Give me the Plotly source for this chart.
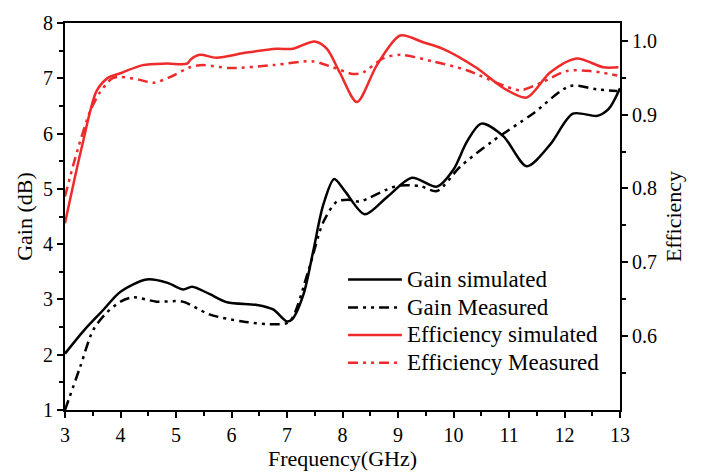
import plotly.graph_objects as go

# Gain simulated
gs_f = [3.0, 3.35, 3.68, 4.0, 4.47, 4.85, 5.13, 5.29, 5.6, 5.92, 6.46, 6.75, 7.0, 7.1, 7.3, 7.47, 7.65, 7.85, 8.05, 8.4, 8.8, 9.25, 9.7, 10.0, 10.24, 10.5, 10.9, 11.32, 11.74, 12.15, 12.59, 12.8, 13.0]
gs_v = [2.02, 2.45, 2.8, 3.14, 3.36, 3.3, 3.18, 3.23, 3.1, 2.95, 2.9, 2.82, 2.6, 2.65, 3.1, 3.86, 4.7, 5.18, 4.95, 4.54, 4.85, 5.2, 5.04, 5.35, 5.85, 6.18, 5.95, 5.41, 5.8, 6.36, 6.32, 6.45, 6.82]

# Gain measured
gm_f = [3.0, 3.27, 3.5, 3.72, 4.0, 4.23, 4.65, 5.12, 5.6, 6.2, 6.8, 7.05, 7.38, 7.65, 7.9, 8.14, 8.3, 8.97, 9.4, 9.7, 10.12, 10.7, 11.43, 12.1, 12.58, 12.95]
gm_v = [1.0, 1.77, 2.43, 2.73, 2.96, 3.04, 2.96, 2.96, 2.73, 2.6, 2.55, 2.6, 3.5, 4.39, 4.77, 4.8, 4.77, 5.05, 5.05, 4.96, 5.4, 5.86, 6.36, 6.86, 6.8, 6.77]

# Efficiency simulated
es_f = [3.0, 3.3, 3.57, 3.78, 4.0, 4.4, 4.83, 5.2, 5.27, 5.43, 5.73, 6.27, 6.82, 7.1, 7.5, 7.72, 7.95, 8.26, 8.62, 9.04, 9.45, 9.81, 10.42, 10.9, 11.32, 11.74, 12.22, 12.7, 12.97]
es_v = [0.753, 0.855, 0.932, 0.95, 0.956, 0.967, 0.969, 0.969, 0.975, 0.981, 0.977, 0.984, 0.989, 0.989, 0.999, 0.989, 0.957, 0.917, 0.967, 1.007, 0.998, 0.989, 0.963, 0.936, 0.923, 0.957, 0.976, 0.964, 0.964]

# Efficiency measured
em_f = [3.0, 3.18, 3.45, 3.63, 3.85, 4.0, 4.35, 4.59, 4.9, 5.25, 5.49, 5.97, 6.75, 7.47, 7.83, 8.19, 8.37, 8.73, 9.04, 9.63, 10.24, 10.78, 11.2, 11.6, 12.04, 12.46, 12.95]
em_v = [0.789, 0.84, 0.904, 0.93, 0.949, 0.951, 0.947, 0.943, 0.951, 0.964, 0.967, 0.963, 0.967, 0.972, 0.964, 0.955, 0.957, 0.976, 0.981, 0.972, 0.96, 0.943, 0.933, 0.944, 0.959, 0.959, 0.953]

series_names = ["Gain simulated", "Gain Measured", "Efficiency simulated", "Efficiency Measured"]

RED = "#ee2a2a"
DASHDOT = "10px,5px,3px,5px,3px,5px"
FONT = "Liberation Serif"

styles = [dict(color="black", dash="solid"), dict(color="black", dash=DASHDOT),
          dict(color=RED, dash="solid"), dict(color=RED, dash=DASHDOT)]
data = [(gs_f, gs_v, "y"), (gm_f, gm_v, "y"), (es_f, es_v, "y2"), (em_f, em_v, "y2")]

fig = go.Figure()
for (fx, fy, ax), nm, st in zip(data, series_names, styles):
    fig.add_trace(go.Scatter(x=fx, y=fy, mode="lines", name=nm, yaxis=ax, showlegend=False,
                             line=dict(color=st["color"], width=2.5, shape="spline",
                                       smoothing=0.8, dash=st["dash"])))

# manual legend (paper coordinates)
leg_x0, leg_x1, txt_x = 0.510, 0.607, 0.613
row_y = [0.337, 0.265, 0.194, 0.122]
for nm, st, yy in zip(series_names, styles, row_y):
    fig.add_shape(type="line", xref="paper", yref="paper", x0=leg_x0, x1=leg_x1, y0=yy, y1=yy,
                  line=dict(color=st["color"], width=2.5, dash=st["dash"]))
    fig.add_annotation(xref="paper", yref="paper", x=txt_x, y=yy, text=nm, showarrow=False,
                       xanchor="left", yanchor="middle",
                       font=dict(family=FONT, size=23, color="black"))

axis_common = dict(showline=True, linecolor="black", linewidth=2, ticks="outside",
                   ticklen=6, tickwidth=1.5, tickcolor="black", showgrid=False, zeroline=False,
                   tickfont=dict(family=FONT, size=20, color="black"))

fig.update_layout(
    width=703, height=475,
    margin=dict(l=65, r=83, t=18, b=65),
    plot_bgcolor="white", paper_bgcolor="white",
    font=dict(family=FONT, size=20, color="black"),
    xaxis=dict(range=[3, 13], dtick=1, mirror=True,
               minor=dict(dtick=0.5, ticks="outside", ticklen=4, tickwidth=1.5, tickcolor="black"),
               title=dict(text="Frequency(GHz)", font=dict(family=FONT, size=22), standoff=0),
               **axis_common),
    yaxis=dict(range=[1, 8], dtick=1,
               minor=dict(dtick=0.5, ticks="outside", ticklen=4, tickwidth=1.5, tickcolor="black"),
               title=dict(text="Gain (dB)", font=dict(family=FONT, size=22), standoff=4),
               **axis_common),
    yaxis2=dict(range=[0.5, 1.024], tickvals=[0.6, 0.7, 0.8, 0.9, 1.0], tickformat=".1f",
                overlaying="y", side="right",
                minor=dict(tickvals=[0.55, 0.65, 0.75, 0.85, 0.95], ticks="outside", ticklen=4,
                           tickwidth=1.5, tickcolor="black"),
                title=dict(text="Efficiency", font=dict(family=FONT, size=22), standoff=10),
                **axis_common),
    showlegend=False,
)

fig.write_html("out.html")
